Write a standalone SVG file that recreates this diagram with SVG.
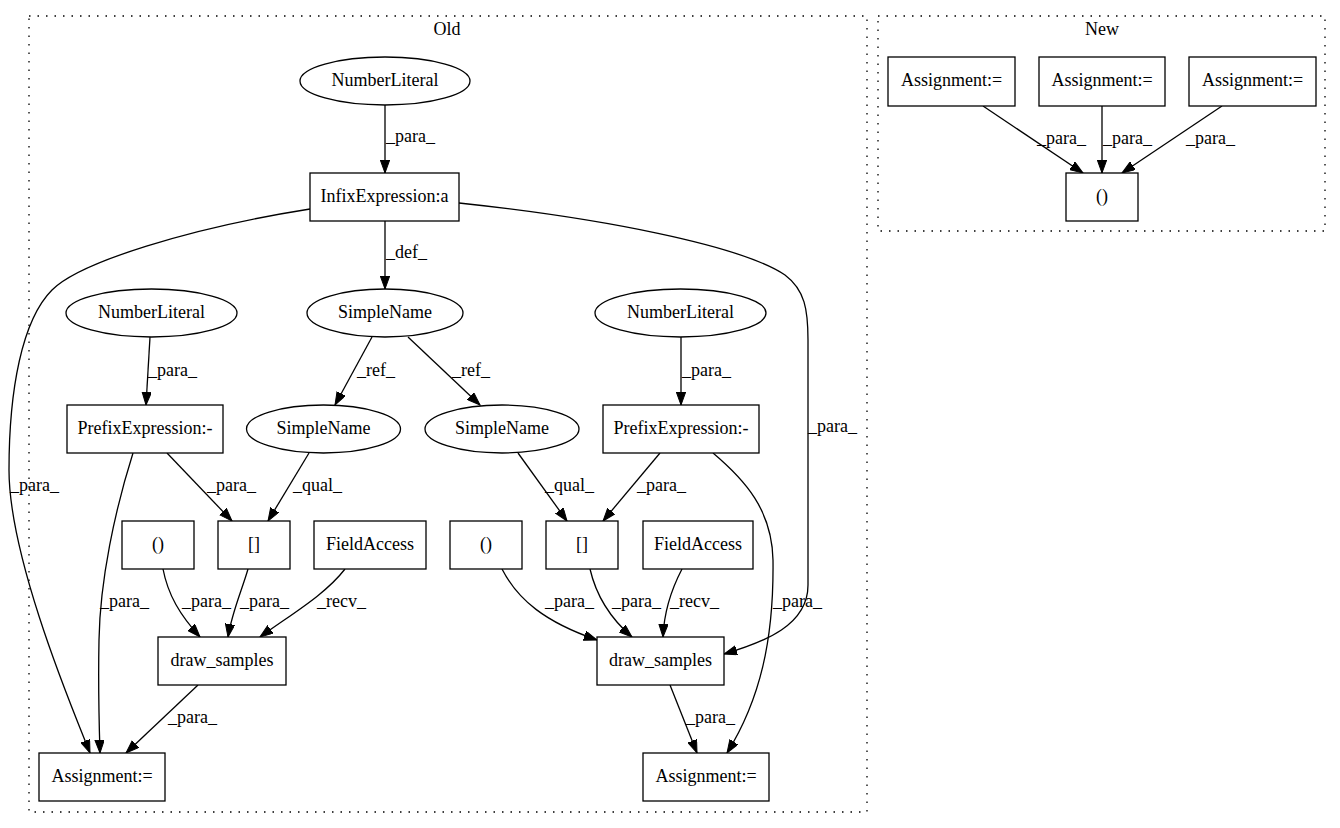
<svg xmlns="http://www.w3.org/2000/svg" width="1340" height="828" viewBox="0 0 1340 828">
<style>
text{font-family:"Liberation Serif","Times New Roman",serif;font-size:18px;fill:#000}
.n{text-anchor:middle}
.shape{fill:#fff;stroke:#000;stroke-width:1.3}
.cl{fill:none;stroke:#000;stroke-width:1.3;stroke-dasharray:1.5,7}
.e{fill:none;stroke:#000;stroke-width:1.3;marker-end:url(#ah)}
</style>
<defs>
<marker id="ah" markerUnits="userSpaceOnUse" markerWidth="14" markerHeight="10" refX="13" refY="4.7" orient="auto">
<path d="M0,0 L13,4.7 L0,9.4 Z" fill="#000" stroke="#000" stroke-width="1"/>
</marker>
</defs>
<rect width="1340" height="828" fill="#fff"/>
<g id="cluster_old">
<rect class="cl" x="29" y="16" width="838" height="796"/>
<text class="n" x="447" y="35">Old</text>
</g>
<g id="cluster_new">
<rect class="cl" x="878" y="16" width="447" height="215"/>
<text class="n" x="1102" y="35">New</text>
</g>
<g id="edges">
<path class="e" d="M385,105 L385,173"/>
<text x="386" y="142">_para_</text>
<path class="e" d="M385,221 L385,289"/>
<text x="386" y="258">_def_</text>
<path class="e" d="M310,209 C190,228 80,262 52,290 C22,320 9,390 9,470 C9,560 75,715 90,753"/>
<text x="10" y="491">_para_</text>
<path class="e" d="M459,203 C600,218 740,245 785,275 C805,290 808,310 808,340 L808,585 C808,625 765,642 724,654"/>
<text x="808" y="432">_para_</text>
<path class="e" d="M372,337 L335,405"/>
<text x="357" y="376">_ref_</text>
<path class="e" d="M408,337 L480,405"/>
<text x="452" y="376">_ref_</text>
<path class="e" d="M150,337 L146,405"/>
<text x="148" y="376">_para_</text>
<path class="e" d="M681,337 L681,405"/>
<text x="682" y="376">_para_</text>
<path class="e" d="M167,453 L232,521"/>
<text x="207" y="491">_para_</text>
<path class="e" d="M309,453 L268,521"/>
<text x="293" y="491">_qual_</text>
<path class="e" d="M133,453 C115,510 100,580 99,640 C98,690 99,720 100,753"/>
<text x="100" y="607">_para_</text>
<path class="e" d="M518,453 L567,521"/>
<text x="545" y="491">_qual_</text>
<path class="e" d="M660,453 L603,521"/>
<text x="637" y="491">_para_</text>
<path class="e" d="M713,453 C745,480 772,510 773,560 C774,640 760,700 727,753"/>
<text x="773" y="607">_para_</text>
<path class="e" d="M163,569 C168,595 180,615 200,637"/>
<text x="182" y="607">_para_</text>
<path class="e" d="M248,569 C242,590 232,612 228,637"/>
<text x="240" y="607">_para_</text>
<path class="e" d="M345,569 C325,595 290,615 260,637"/>
<text x="317" y="607">_recv_</text>
<path class="e" d="M502,569 C518,600 545,622 597,640"/>
<text x="545" y="607">_para_</text>
<path class="e" d="M590,569 C596,595 610,618 632,637"/>
<text x="612" y="607">_para_</text>
<path class="e" d="M682,569 C670,592 664,612 663,637"/>
<text x="670" y="607">_recv_</text>
<path class="e" d="M198,685 L126,753"/>
<text x="168" y="723">_para_</text>
<path class="e" d="M670,685 L697,753"/>
<text x="686" y="723">_para_</text>
<path class="e" d="M983,106 L1083,173"/>
<text x="1037" y="144">_para_</text>
<path class="e" d="M1102,106 L1102,173"/>
<text x="1103" y="144">_para_</text>
<path class="e" d="M1222,106 L1122,173"/>
<text x="1186" y="144">_para_</text>
</g>
<g id="nl_top"><ellipse class="shape" cx="385" cy="81" rx="85" ry="24"/><text class="n" x="385" y="86">NumberLiteral</text></g>
<g id="infix"><rect class="shape" x="310" y="173" width="149" height="48"/><text class="n" x="384.5" y="202">InfixExpression:a</text></g>
<g id="sn_top"><ellipse class="shape" cx="385" cy="313" rx="78" ry="24"/><text class="n" x="385" y="318">SimpleName</text></g>
<g id="nl_left"><ellipse class="shape" cx="151.5" cy="313" rx="85.5" ry="24"/><text class="n" x="151.5" y="318">NumberLiteral</text></g>
<g id="nl_right"><ellipse class="shape" cx="680.5" cy="313" rx="85.5" ry="24"/><text class="n" x="680.5" y="318">NumberLiteral</text></g>
<g id="prefix_left"><rect class="shape" x="67" y="405" width="156" height="48"/><text class="n" x="145" y="434">PrefixExpression:-</text></g>
<g id="sn_left"><ellipse class="shape" cx="323.5" cy="429" rx="77" ry="24"/><text class="n" x="323.5" y="434">SimpleName</text></g>
<g id="sn_right"><ellipse class="shape" cx="502" cy="429" rx="77" ry="24"/><text class="n" x="502" y="434">SimpleName</text></g>
<g id="prefix_right"><rect class="shape" x="603" y="405" width="156" height="48"/><text class="n" x="681" y="434">PrefixExpression:-</text></g>
<g id="paren_left"><rect class="shape" x="122" y="521" width="72" height="48"/><text class="n" x="158" y="550">()</text></g>
<g id="brk_left"><rect class="shape" x="218" y="521" width="72" height="48"/><text class="n" x="254" y="550">[]</text></g>
<g id="fa_left"><rect class="shape" x="314" y="521" width="112" height="48"/><text class="n" x="370" y="550">FieldAccess</text></g>
<g id="paren_right"><rect class="shape" x="450" y="521" width="72" height="48"/><text class="n" x="486" y="550">()</text></g>
<g id="brk_right"><rect class="shape" x="546" y="521" width="72" height="48"/><text class="n" x="582" y="550">[]</text></g>
<g id="fa_right"><rect class="shape" x="643" y="521" width="110" height="48"/><text class="n" x="698" y="550">FieldAccess</text></g>
<g id="ds_left"><rect class="shape" x="158" y="637" width="128" height="48"/><text class="n" x="222" y="666">draw_samples</text></g>
<g id="ds_right"><rect class="shape" x="597" y="637" width="127" height="48"/><text class="n" x="660.5" y="666">draw_samples</text></g>
<g id="as_left"><rect class="shape" x="39" y="753" width="126" height="48"/><text class="n" x="102" y="782">Assignment:=</text></g>
<g id="as_right"><rect class="shape" x="643" y="753" width="126" height="48"/><text class="n" x="706" y="782">Assignment:=</text></g>
<g id="new_as1"><rect class="shape" x="888" y="57" width="127" height="49"/><text class="n" x="951.5" y="86">Assignment:=</text></g>
<g id="new_as2"><rect class="shape" x="1039" y="57" width="126" height="49"/><text class="n" x="1102" y="86">Assignment:=</text></g>
<g id="new_as3"><rect class="shape" x="1189" y="57" width="127" height="49"/><text class="n" x="1252.5" y="86">Assignment:=</text></g>
<g id="new_paren"><rect class="shape" x="1066" y="173" width="72" height="48"/><text class="n" x="1102" y="202">()</text></g>
</svg>
